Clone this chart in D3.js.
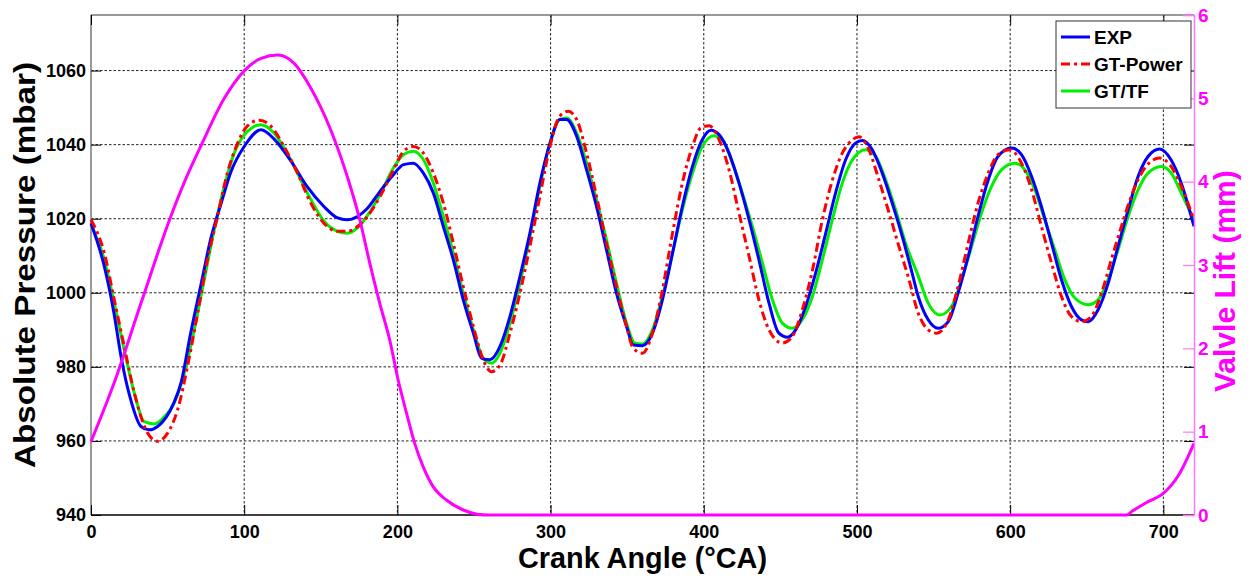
<!DOCTYPE html>
<html>
<head>
<meta charset="utf-8">
<script src="https://cdn.jsdelivr.net/npm/d3@7"></script>
<style>
  body { margin: 0; background: #fff; }
  svg { font-family: "Liberation Sans", Arial, sans-serif; font-weight: bold; }
</style>
</head>
<body>
<svg id="chart" width="1252" height="584"></svg>
<script>
// [crank angle (°CA), absolute pressure (mbar)]
const expCurve = [
  [0,1018.8],[8.7,1007.1],[15,994.5],[19.6,982.8],[26,971],[32.6,963.9],[38,963],[43.5,963.9],[54,970.2],[58.7,975.6],
  [65,989],[72,1002.6],[78,1014.3],[85,1024.2],[91,1032.3],[100,1039.5],[111,1044],[120,1041.3],[130,1035.9],[141,1028.7],
  [152,1023.3],[161,1020.2],[167,1019.7],[174,1020.6],[180,1022.6],[188.7,1027.4],[197.4,1031.9],[204,1034.6],[210.4,1035],
  [217,1032.3],[223.5,1026.9],[230,1017.9],[236.5,1008.9],[243,998.1],[249.6,989.1],[255,982.3],[260.4,981.9],[267,985.5],
  [273.5,993.6],[280,1004.4],[286.5,1016.1],[293,1029.6],[299.6,1040.4],[306,1046.8],[310.4,1046.8],[317,1042.3],[323.5,1033.2],
  [330,1023.3],[336.5,1011.6],[343,999.9],[349.6,990.9],[354,985.9],[360,985.7],[366.5,989.1],[373,998.1],[379.6,1010.7],
  [386,1023.3],[392.6,1034.1],[399,1041.3],[404.6,1043.9],[410,1042.7],[416.5,1037.7],[423,1029.6],[429.6,1019.7],[436,1008.9],
  [442.6,997.2],[449,989.1],[454.6,988],[460,990],[466.5,996.3],[473,1005.3],[479.6,1016.1],[486,1026.9],[492.6,1035.9],
  [499,1040.4],[503.5,1041.1],[510,1038.6],[516.5,1032.3],[523,1024.2],[529.6,1015.2],[536,1005.3],[540,999],[546.5,992.7],
  [553,990.4],[559.6,992.2],[566,999.9],[572.6,1009.8],[579,1020.6],[585.7,1030.5],[592,1036.8],[601,1039.1],[607.4,1037.3],
  [614,1031.4],[620.4,1023.3],[627,1013.4],[633.5,1003.5],[640,996.3],[646.5,992.7],[651,992.2],[657.4,995.4],[664,1002.6],
  [670.4,1012.5],[677,1022.4],[683.5,1031.4],[690,1036.8],[697.6,1038.8],[705,1035.9],[711.7,1029.6],[720,1017.9]
];

const gtPowerCurve = [
  [0,1019.7],[8.7,1010.7],[15.2,998.1],[21.7,985.5],[28.3,972.9],[37,962.1],[43.5,959.9],[50,962.1],[56.5,968.4],[63,980.1],
  [69.6,994.5],[76,1008.9],[82.6,1020.6],[89,1032.3],[95.7,1040.4],[102,1045],[109.8,1046.6],[117.4,1045],[126,1039.5],
  [134.8,1032.3],[143.5,1024.2],[152,1018.8],[161,1016.6],[167.4,1016.6],[174,1017.9],[180,1020.4],[188.7,1026],[197.4,1033.2],
  [204,1038.2],[210.4,1039.5],[217,1037.7],[223.5,1032.3],[230,1024.2],[236.5,1013.4],[243,1001.7],[249.6,990.9],[256,981.9],
  [261.5,978.7],[267,980.5],[273.5,989.1],[280,999.9],[286.5,1012.5],[293,1026],[299.6,1039.5],[306,1047.7],[311.5,1049],
  [317,1046.8],[323.5,1037.7],[330,1026],[336.5,1013.4],[343,1001.7],[349.6,990.9],[354,985],[360,983.7],[366.5,989.1],
  [373,1000.8],[379.6,1016.1],[386,1029.6],[392.6,1039.5],[398,1044.5],[403.5,1045.1],[410,1041.3],[416.5,1033.2],[423,1021.5],
  [429.6,1009.8],[436,998.1],[442.6,990],[451.3,986.4],[457.8,988.2],[464.3,995.4],[471,1006.2],[477.4,1019.7],[484,1030.5],
  [490.4,1037.7],[497,1041.3],[501.3,1042.1],[507.8,1038.6],[514.3,1030.5],[521,1021.5],[527.4,1012.5],[534,1003.5],[540,994.5],
  [546.5,990],[552,989.1],[559.6,992.7],[566,1001.7],[572.6,1013.4],[579,1024.2],[585.7,1032.3],[592,1037.3],[599.8,1038.6],
  [607.4,1035],[614,1027.8],[620.4,1017.9],[627,1008],[633.5,999],[640,993.6],[646.5,992.2],[653,993.6],[659.6,999.9],
  [666,1008.9],[672.6,1017.9],[679,1026],[685.7,1032.3],[692,1035.5],[697.6,1036.4],[705,1034.1],[711.7,1028.7],[720,1019.7]
];

const gtTfCurve = [
  [0,1018.4],[8.7,1008.9],[15.2,997.2],[21.7,984.6],[28.3,972.9],[34.8,965.2],[41.3,964.6],[47.8,966.5],[54.3,970.2],[60.9,978.3],
  [67.4,990],[73.9,1003.5],[80.4,1017],[87,1028.7],[93.5,1037.7],[102.2,1043.6],[110.9,1045.4],[119.6,1043.1],[130.4,1035.9],
  [141.3,1026.9],[152.2,1019.3],[160.9,1016.6],[167.4,1016.1],[173.9,1017.5],[180,1020.6],[188.7,1026.5],[197.4,1033.7],
  [203.9,1037.3],[210.4,1038.2],[217,1035.9],[223.5,1029.6],[230,1020.6],[236.5,1010.7],[243,999.9],[249.6,990],[256,982.3],
  [261.5,981],[267,983.7],[273.5,991.8],[280,1002.6],[286.5,1015.2],[293,1028.7],[299.6,1040.4],[306,1046.8],[310.4,1047.2],
  [317,1043.2],[323.5,1035],[330,1025.1],[336.5,1014.3],[343,1002.6],[349.6,991.8],[355,986.4],[360,986.2],[366.5,990],
  [373,999],[379.6,1010.7],[386,1022.4],[392.6,1032.3],[399,1039.5],[406.7,1042.4],[412.2,1041.3],[418.7,1035],[425.2,1026.9],
  [431.7,1017.9],[438.3,1008],[444.8,998.1],[451.3,991.8],[457.8,990.4],[464.3,992.7],[470.9,999],[477.4,1008.9],[483.9,1019.7],
  [490.4,1029.6],[497,1035.9],[505.7,1038.6],[512.2,1036.8],[518.7,1030.5],[525.2,1022.4],[531.7,1013.4],[540,1004.5],
  [546.5,997.2],[554.1,994],[561.7,996.3],[568.3,1003.5],[574.8,1012.5],[581.3,1021.5],[587.8,1028.7],[594.3,1033.2],[603,1035],
  [609.6,1033.2],[616.1,1027.8],[622.6,1019.7],[629.1,1011.6],[635.7,1003.5],[642.2,998.6],[650.9,996.8],[657.4,998.1],
  [663.9,1003.5],[670.4,1011.6],[677,1020.6],[683.5,1027.8],[690,1032.3],[698.7,1034.1],[705.2,1032.3],[711.7,1026.9],[720,1019.7]
];

// [crank angle (°CA), valve lift (mm)]
const valveLift = [
  [0,0.88],[15,1.58],[32.6,2.54],[52,3.58],[62,4.04],[72,4.44],[87,5.0],[100,5.33],[111,5.48],[122,5.52],[132.6,5.42],
  [143,5.14],[156.5,4.62],[168,4.02],[175.5,3.54],[182,3.02],[188.5,2.54],[195,2.1],[200.5,1.62],[206,1.22],[211.3,0.86],
  [216.8,0.58],[223.3,0.34],[232,0.18],[243,0.06],[252,0.01],[260,0],[676,0],[680,0.05],[690,0.16],[700,0.26],[710,0.48],[720,0.86]
];

const angleTicks = [0, 100, 200, 300, 400, 500, 600, 700];
const pressureTicks = [940, 960, 980, 1000, 1020, 1040, 1060];
const liftTicks = [0, 1, 2, 3, 4, 5, 6];
const seriesNames = ["EXP", "GT-Power", "GT/TF"];

const margin = { top: 15, right: 58, bottom: 69, left: 91 };
const width = 1252, height = 584;

const svg = d3.select("#chart");

const x = d3.scaleLinear().domain([0, 720]).range([margin.left, width - margin.right]);
const yP = d3.scaleLinear().domain([940, 1075]).range([height - margin.bottom, margin.top]);
const yL = d3.scaleLinear().domain([0, 6]).range([height - margin.bottom, margin.top]);

const x0 = x.range()[0], x1 = x.range()[1];
const yBot = yP.range()[0], yTop = yP.range()[1];

// grid
const grid = svg.append("g")
  .attr("stroke", "#222")
  .attr("stroke-width", 1)
  .attr("stroke-dasharray", "2.5,2");
grid.selectAll("line.v")
  .data(angleTicks.filter(d => d > 0))
  .join("line")
  .attr("class", "v")
  .attr("x1", d => x(d)).attr("x2", d => x(d))
  .attr("y1", yTop).attr("y2", yBot);
grid.selectAll("line.h")
  .data(pressureTicks.filter(d => d > 940))
  .join("line")
  .attr("class", "h")
  .attr("x1", x0).attr("x2", x1)
  .attr("y1", d => yP(d)).attr("y2", d => yP(d));

// frame
svg.append("line").attr("x1", x0).attr("x2", x1).attr("y1", yTop).attr("y2", yTop)
  .attr("stroke", "#999").attr("stroke-width", 2);
svg.append("line").attr("x1", x0).attr("x2", x0).attr("y1", yTop).attr("y2", yBot)
  .attr("stroke", "#999").attr("stroke-width", 2);
svg.append("line").attr("x1", x0).attr("x2", x1).attr("y1", yBot).attr("y2", yBot)
  .attr("stroke", "#000").attr("stroke-width", 1.5);

// bottom axis
svg.append("g")
  .attr("transform", `translate(0,${yBot})`)
  .call(d3.axisBottom(x).tickValues(angleTicks).tickSize(-10).tickPadding(10).tickFormat(d3.format("d")))
  .call(g => g.select(".domain").remove())
  .call(g => g.selectAll(".tick line").attr("stroke", "#000"))
  .call(g => g.selectAll(".tick text")
    .attr("font-size", 18).attr("font-family", null).attr("fill", "#000"));

// top mirrored ticks
svg.append("g")
  .attr("transform", `translate(0,${yTop})`)
  .call(d3.axisTop(x).tickValues(angleTicks).tickSize(-10).tickFormat(""))
  .call(g => g.select(".domain").remove())
  .call(g => g.selectAll(".tick line").attr("stroke", "#000"));

// left axis
svg.append("g")
  .attr("transform", `translate(${x0},0)`)
  .call(d3.axisLeft(yP).tickValues(pressureTicks).tickSize(-10).tickPadding(5).tickFormat(d3.format("d")))
  .call(g => g.select(".domain").remove())
  .call(g => g.selectAll(".tick line").attr("stroke", "#000"))
  .call(g => g.selectAll(".tick text")
    .attr("font-size", 18).attr("font-family", null).attr("fill", "#000"));

// right mirrored pressure ticks
svg.append("g")
  .attr("transform", `translate(${x1},0)`)
  .call(d3.axisRight(yP).tickValues(pressureTicks).tickSize(-10).tickFormat(""))
  .call(g => g.select(".domain").remove())
  .call(g => g.selectAll(".tick line").attr("stroke", "#000"));

// pressure curves
const line = d3.line()
  .x(d => x(d[0]))
  .y(d => yP(d[1]))
  .curve(d3.curveMonotoneX);

const plot = svg.append("g").attr("fill", "none").attr("stroke-width", 3)
  .attr("stroke-linejoin", "round");

plot.append("path").datum(gtTfCurve).attr("d", line).attr("stroke", "#00f000");
plot.append("path").datum(expCurve).attr("d", line).attr("stroke", "#0000ff");
plot.append("path").datum(gtPowerCurve).attr("d", line).attr("stroke", "#ff0000")
  .attr("stroke-dasharray", "9,4,3,4");

// valve lift
const liftLine = d3.line()
  .x(d => x(d[0]))
  .y(d => yL(d[1]))
  .curve(d3.curveMonotoneX);

svg.append("path").datum(valveLift)
  .attr("d", liftLine)
  .attr("fill", "none")
  .attr("stroke", "#ff00ff")
  .attr("stroke-width", 3);

// right axis (valve lift)
svg.append("g")
  .attr("transform", `translate(${x1},0)`)
  .call(d3.axisRight(yL).tickValues(liftTicks).tickSize(-11).tickPadding(4).tickFormat(d3.format("d")))
  .call(g => g.select(".domain").attr("stroke", "#ff77ff").attr("stroke-width", 1.5))
  .call(g => g.selectAll(".tick line").attr("stroke", "#ff77ff").attr("stroke-width", 1.2))
  .call(g => g.selectAll(".tick text")
    .attr("font-size", 19).attr("font-family", null).attr("fill", "#ff00ff"));

// axis titles
svg.append("text")
  .attr("x", (x0 + x1) / 2)
  .attr("y", 568)
  .attr("text-anchor", "middle")
  .attr("font-size", 29)
  .attr("textLength", 249)
  .attr("lengthAdjust", "spacingAndGlyphs")
  .text("Crank Angle (°CA)");

svg.append("text")
  .attr("transform", `translate(35,${(yTop + yBot) / 2}) rotate(-90)`)
  .attr("text-anchor", "middle")
  .attr("font-size", 30)
  .attr("textLength", 406)
  .attr("lengthAdjust", "spacingAndGlyphs")
  .text("Absolute Pressure (mbar)");

svg.append("text")
  .attr("transform", "translate(1235,392) rotate(-90)")
  .attr("text-anchor", "start")
  .attr("font-size", 30)
  .attr("fill", "#ff00ff")
  .text("Valvle Lift (mm)");

// legend
const legend = svg.append("g").attr("transform", "translate(1056,21)");
legend.append("rect")
  .attr("width", 135).attr("height", 87)
  .attr("fill", "#fff").attr("stroke", "#333").attr("stroke-width", 1);

const legendStyles = [
  { color: "#0000ff", dash: null },
  { color: "#ff0000", dash: "9,4,3,4" },
  { color: "#00f000", dash: null }
];

const item = legend.selectAll("g.item")
  .data(seriesNames)
  .join("g")
  .attr("class", "item")
  .attr("transform", (d, i) => `translate(0,${16 + i * 27})`);

item.append("line")
  .attr("x1", 5).attr("x2", 34)
  .attr("stroke", (d, i) => legendStyles[i].color)
  .attr("stroke-width", 3)
  .attr("stroke-dasharray", (d, i) => legendStyles[i].dash);

item.append("text")
  .attr("x", 38)
  .attr("dy", "0.35em")
  .attr("font-size", 19)
  .text(d => d);
</script>
</body>
</html>
